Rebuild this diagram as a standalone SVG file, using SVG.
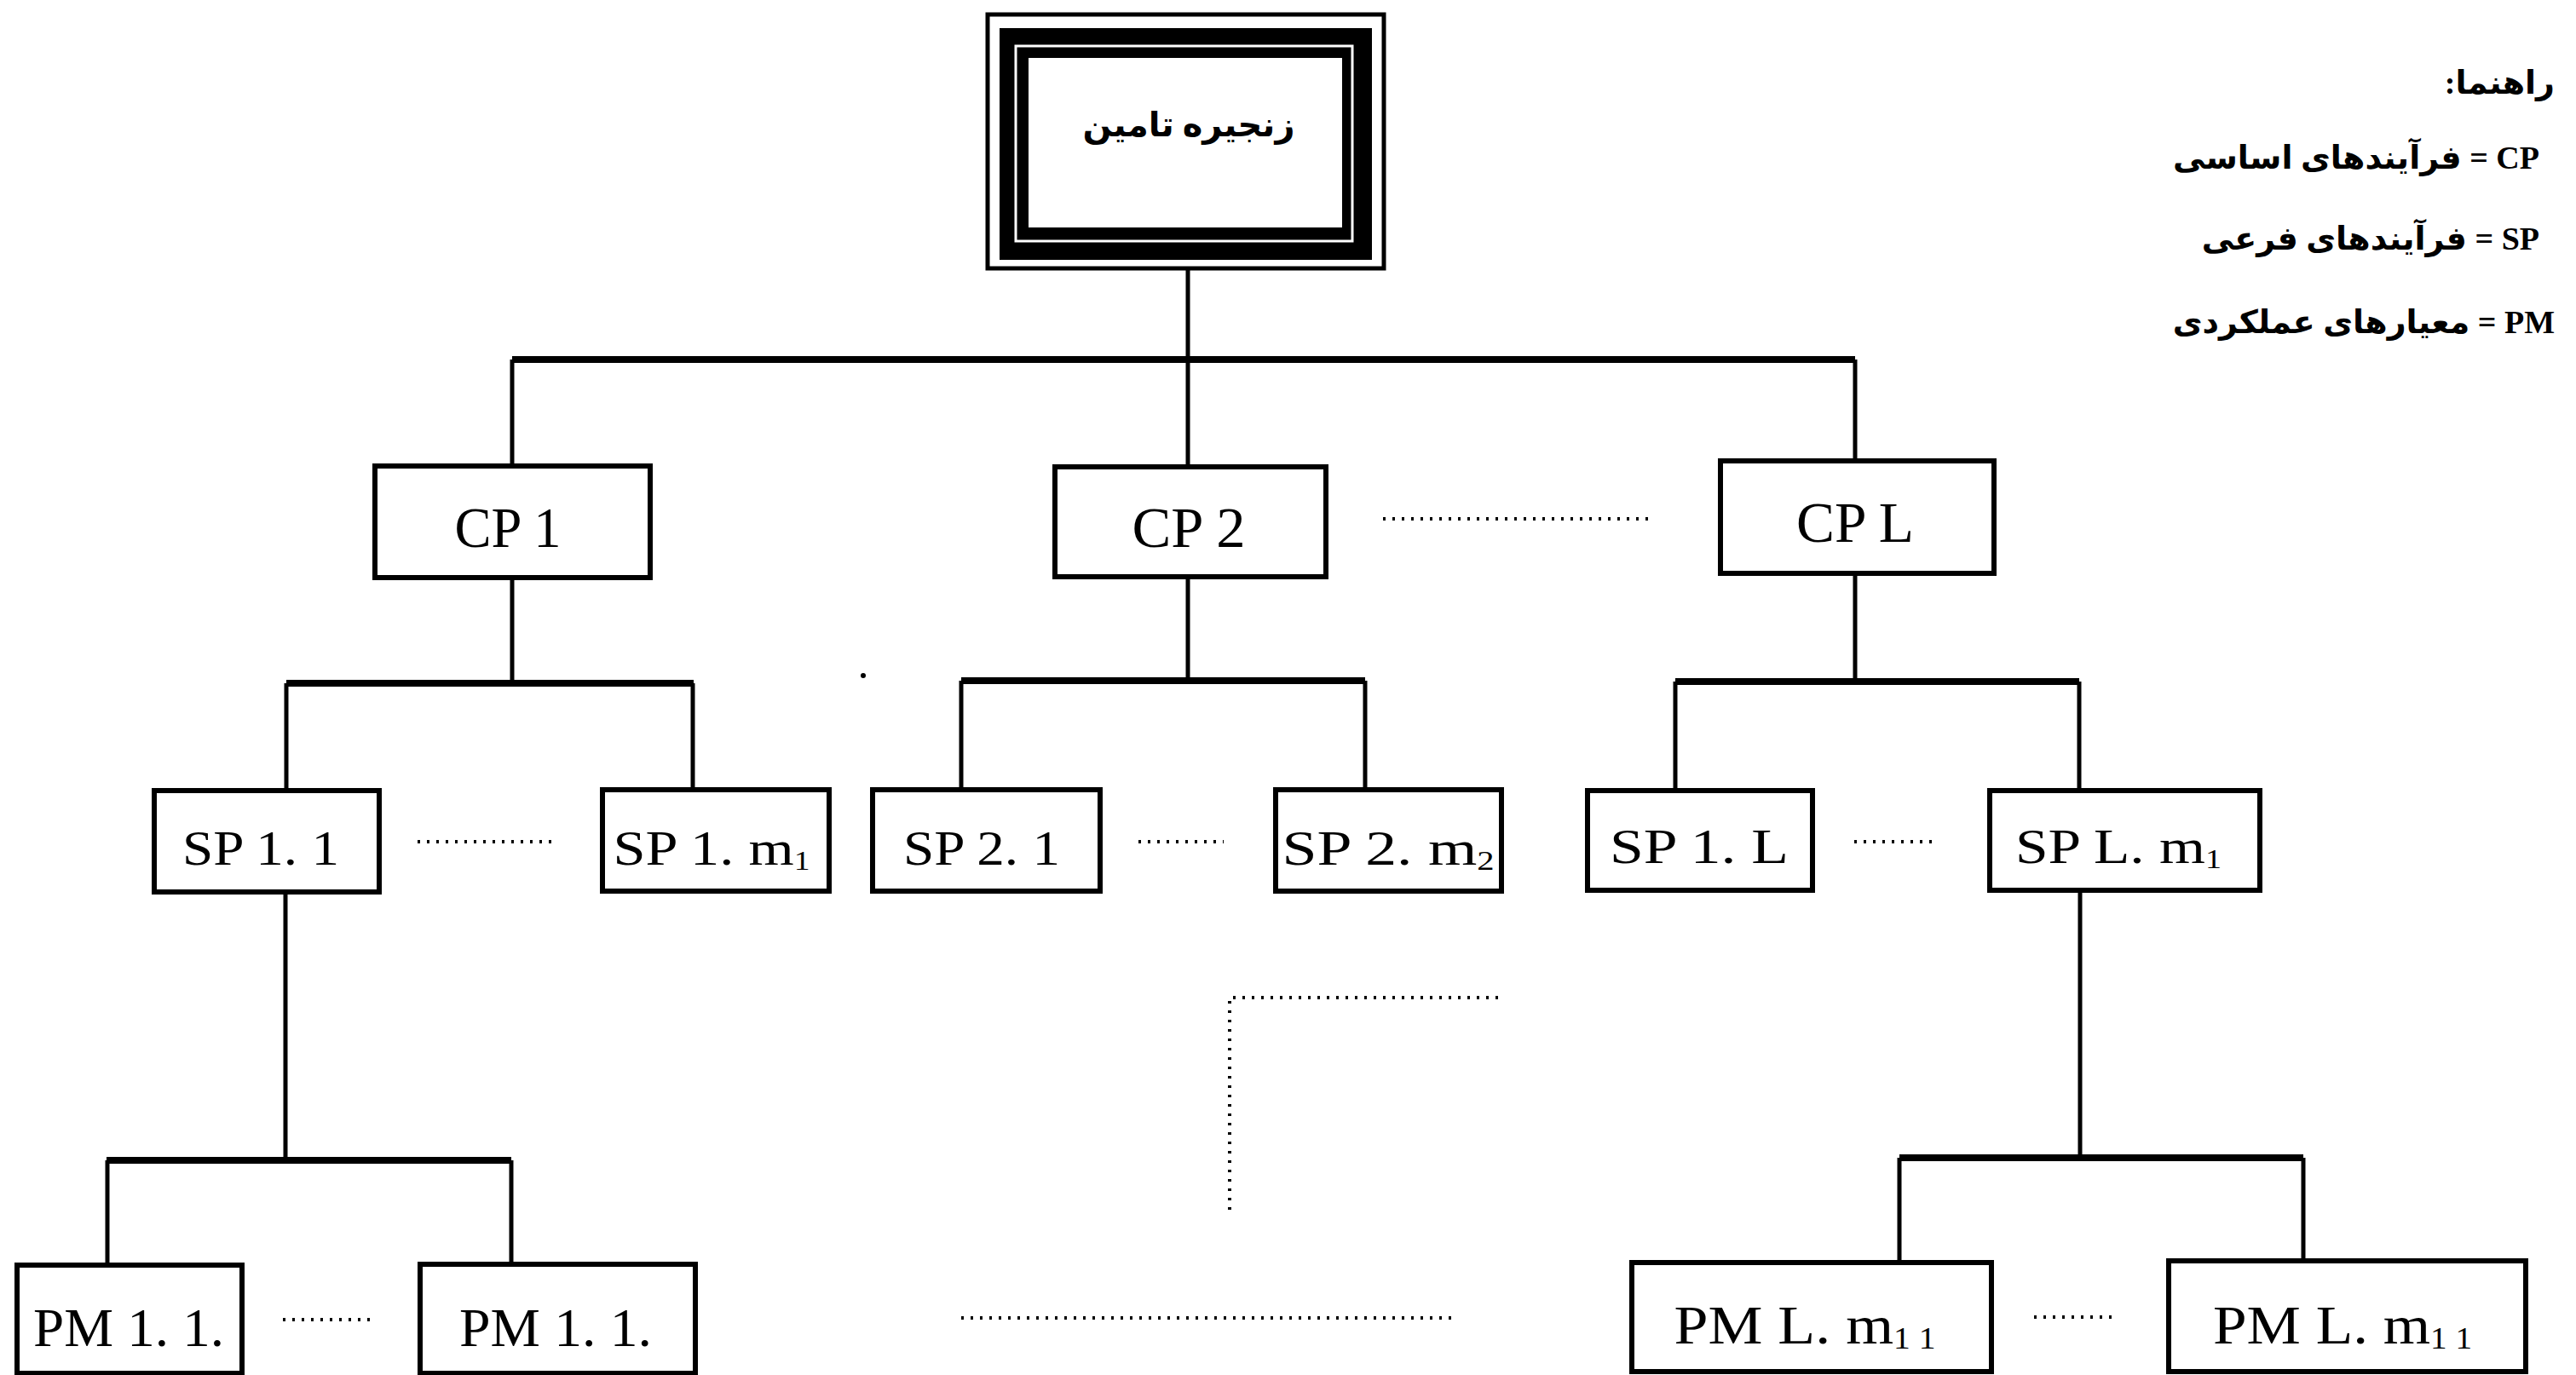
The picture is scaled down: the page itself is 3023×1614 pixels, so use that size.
<svg xmlns="http://www.w3.org/2000/svg" width="3023" height="1614" viewBox="0 0 3023 1614">
<style>
.box{fill:#fff;stroke:#000;stroke-width:6}
.bar{stroke:#000;stroke-width:8;fill:none}
.stem{stroke:#000;stroke-width:5;fill:none}
.dots{stroke:#000;stroke-width:4;stroke-dasharray:3 8;fill:none}
.lbl{font-family:'Liberation Serif',serif;text-anchor:middle;fill:#000}
.cp{font-size:68px}
.sp{font-size:56px}
.pm{font-size:64px}
.sub{font-size:0.55em}
.fa{font-family:'Liberation Serif','DejaVu Sans',sans-serif;font-weight:bold;fill:#000}
</style>
<rect width="3023" height="1614" fill="#fff"/>
<g id="connectors">
<line class="stem" x1="1394" y1="305" x2="1394" y2="548"/>
<line class="bar" x1="601" y1="422" x2="2177" y2="422"/>
<line class="stem" x1="601" y1="422" x2="601" y2="547"/>
<line class="stem" x1="2177" y1="422" x2="2177" y2="541"/>
<line class="stem" x1="601" y1="678" x2="601" y2="802"/>
<line class="bar" x1="336" y1="802" x2="814" y2="802"/>
<line class="stem" x1="336" y1="802" x2="336" y2="928"/>
<line class="stem" x1="813" y1="802" x2="813" y2="927"/>
<line class="stem" x1="1394" y1="677" x2="1394" y2="799"/>
<line class="bar" x1="1128" y1="799" x2="1602" y2="799"/>
<line class="stem" x1="1128" y1="799" x2="1128" y2="927"/>
<line class="stem" x1="1602" y1="799" x2="1602" y2="927"/>
<line class="stem" x1="2177" y1="673" x2="2177" y2="800"/>
<line class="bar" x1="1966" y1="800" x2="2440" y2="800"/>
<line class="stem" x1="1966" y1="800" x2="1966" y2="928"/>
<line class="stem" x1="2440" y1="800" x2="2440" y2="928"/>
<line class="stem" x1="335" y1="1047" x2="335" y2="1362"/>
<line class="bar" x1="125" y1="1362" x2="600" y2="1362"/>
<line class="stem" x1="126" y1="1362" x2="126" y2="1485"/>
<line class="stem" x1="600" y1="1362" x2="600" y2="1484"/>
<line class="stem" x1="2441" y1="1045" x2="2441" y2="1359"/>
<line class="bar" x1="2229" y1="1359" x2="2703" y2="1359"/>
<line class="stem" x1="2229" y1="1359" x2="2229" y2="1482"/>
<line class="stem" x1="2703" y1="1359" x2="2703" y2="1480"/>
<line class="dots" x1="1623" y1="609" x2="1940" y2="609"/>
<line class="dots" x1="490" y1="988" x2="655" y2="988"/>
<line class="dots" x1="1336" y1="988" x2="1436" y2="988"/>
<line class="dots" x1="2176" y1="988" x2="2275" y2="988"/>
<line class="dots" x1="332" y1="1549" x2="434" y2="1549"/>
<line class="dots" x1="2387" y1="1546" x2="2485" y2="1546"/>
<polyline class="dots" points="1758,1171 1443,1171 1443,1422"/>
<line class="dots" x1="1128" y1="1547" x2="1707" y2="1547"/>
<circle cx="1013" cy="793" r="3" fill="#000"/>
</g>
<g id="supply-chain">
<rect x="1159" y="17" width="465" height="298" fill="#fff" stroke="#000" stroke-width="5"/>
<rect x="1173" y="33" width="437" height="272" fill="#000"/>
<rect x="1192" y="54" width="395" height="229" fill="none" stroke="#fff" stroke-width="3"/>
<rect x="1207" y="68" width="368" height="199" fill="#fff"/>
<text class="fa" x="1395" y="160" font-size="40" text-anchor="middle" direction="rtl">زنجیره تامین</text>
</g>
<g id="cp1"><rect class="box" x="440" y="547" width="323" height="131"/><text class="lbl cp" x="596" y="642" textLength="125" lengthAdjust="spacingAndGlyphs">CP 1</text></g>
<g id="cp2"><rect class="box" x="1238" y="548" width="318" height="129"/><text class="lbl cp" x="1395" y="642" textLength="133" lengthAdjust="spacingAndGlyphs">CP 2</text></g>
<g id="cpl"><rect class="box" x="2019" y="541" width="321" height="132"/><text class="lbl cp" x="2177" y="636" textLength="138" lengthAdjust="spacingAndGlyphs">CP L</text></g>
<g id="sp1-1"><rect class="box" x="181" y="928" width="264" height="119"/><text class="lbl sp" x="306" y="1015" textLength="184" lengthAdjust="spacingAndGlyphs">SP 1. 1</text></g>
<g id="sp1-m1"><rect class="box" x="707" y="927" width="266" height="119"/><text class="lbl sp" x="835" y="1015" textLength="231" lengthAdjust="spacingAndGlyphs">SP 1. m<tspan class="sub" dy="6">1</tspan></text></g>
<g id="sp2-1"><rect class="box" x="1024" y="927" width="267" height="119"/><text class="lbl sp" x="1152" y="1015" textLength="184" lengthAdjust="spacingAndGlyphs">SP 2. 1</text></g>
<g id="sp2-m2"><rect class="box" x="1497" y="927" width="265" height="119"/><text class="lbl sp" x="1629" y="1015" textLength="249" lengthAdjust="spacingAndGlyphs">SP 2. m<tspan class="sub" dy="6">2</tspan></text></g>
<g id="sp1-l"><rect class="box" x="1863" y="928" width="264" height="117"/><text class="lbl sp" x="1994" y="1013" textLength="210" lengthAdjust="spacingAndGlyphs">SP 1. L</text></g>
<g id="spl-m1"><rect class="box" x="2335" y="928" width="317" height="117"/><text class="lbl sp" x="2486" y="1013" textLength="242" lengthAdjust="spacingAndGlyphs">SP L. m<tspan class="sub" dy="6">1</tspan></text></g>
<g id="pm1-1a"><rect class="box" x="20" y="1485" width="264" height="127"/><text class="lbl pm" x="151" y="1580" textLength="224" lengthAdjust="spacingAndGlyphs">PM 1. 1.</text></g>
<g id="pm1-1b"><rect class="box" x="493" y="1484" width="323" height="128"/><text class="lbl pm" x="652" y="1580" textLength="226" lengthAdjust="spacingAndGlyphs">PM 1. 1.</text></g>
<g id="pml-a"><rect class="box" x="1915" y="1482" width="422" height="128"/><text class="lbl pm" x="2118" y="1577" textLength="307" lengthAdjust="spacingAndGlyphs">PM L. m<tspan class="sub" dy="6">1 1</tspan></text></g>
<g id="pml-b"><rect class="box" x="2545" y="1480" width="419" height="130"/><text class="lbl pm" x="2749" y="1577" textLength="304" lengthAdjust="spacingAndGlyphs">PM L. m<tspan class="sub" dy="6">1 1</tspan></text></g>
<g id="legend">
<text class="fa" x="2998" y="110" font-size="38" direction="rtl" text-anchor="start">راهنما:</text>
<text class="fa" x="2980" y="198" font-size="38" direction="rtl" text-anchor="start">CP = فرآیندهای اساسی</text>
<text class="fa" x="2980" y="293" font-size="38" direction="rtl" text-anchor="start">SP = فرآیندهای فرعی</text>
<text class="fa" x="2998" y="391" font-size="38" direction="rtl" text-anchor="start">PM = معیارهای عملکردی</text>
</g>
</svg>
